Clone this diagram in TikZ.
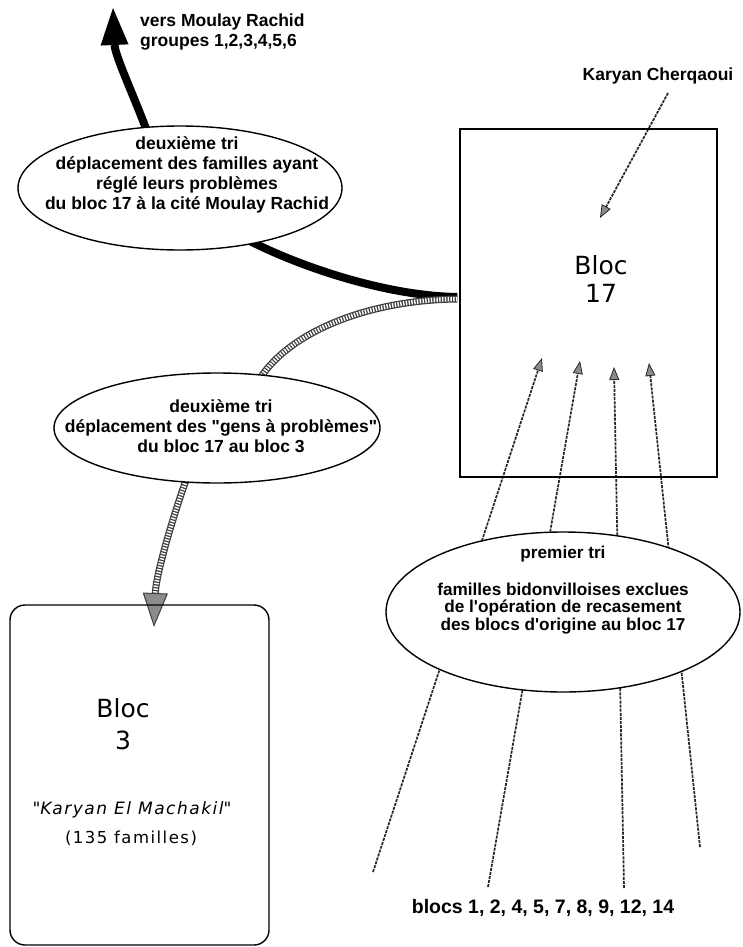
\documentclass[tikz,border=0pt]{standalone}
\usepackage{fontspec}
\setmainfont{Liberation Sans}
\newfontfamily\genevafont{DejaVu Sans}
\newfontfamily\genevasp{DejaVu Sans}[LetterSpace=9]
\usetikzlibrary{shapes.geometric,arrows.meta,calc}
\pgfdeclarelayer{background}
\pgfsetlayers{background,main}
\tikzset{
  lbl/.style={font=\fontsize{17.5}{20}\selectfont\bfseries, align=center, inner sep=0pt},
  oval/.style={ellipse, draw, line width=1.4pt, fill=white, inner sep=0pt},
  blocfont/.style={font=\genevafont\fontsize{25}{30}\selectfont, align=center, inner sep=0pt},
  smallfont/.style={font=\genevasp\fontsize{16.5}{20}\selectfont, inner sep=0pt},
  blackarrow/.style={line width=8pt, -{Triangle[length=37pt,width=28pt,line width=0pt]}},
  grayarrow/.style={line width=7pt, draw=black!75,
    -{Triangle[length=34pt,width=25pt,line width=1pt,fill=black!45]},
    postaction={draw, -, white, line width=4.5pt, dash pattern=on 1.4pt off 1.4pt, shorten >=34pt}},
  dasharrow/.style={line width=1.7pt, draw=black!85, dash pattern=on 3pt off 1.1pt,
    -{Triangle[length=13pt,width=10pt,line width=0.8pt,fill=black!45]}}
}
\begin{document}
\begin{tikzpicture}[x=1pt,y=-1pt]
\useasboundingbox (0,0) rectangle (742,947);

% boxes
\node[draw, line width=1.2pt, minimum width=257pt, minimum height=348pt, inner sep=0pt] (b17) at (588.5,303) {};
\node[blocfont, font=\genevafont\fontsize{25}{28}\selectfont] (b17t) at (601,279) {Bloc\\17};
\node[draw, line width=1.4pt, rounded corners=15pt, minimum width=259pt, minimum height=340pt, inner sep=0pt] (b3) at (139.5,775) {};
\node[blocfont, font=\genevafont\fontsize{25}{32}\selectfont] (b3t) at (123,724) {Bloc\\3};
\node[smallfont, font=\genevasp\itshape\fontsize{17}{20}\selectfont] (b3k) at (132,810) {\textquotedbl Karyan El Machakil\textquotedbl};
\node[smallfont] (b3f) at (131,838) {(135 familles)};

% ellipses
\node[oval, minimum width=324pt, minimum height=124pt] (e1) at (180,188) {};
\node[oval, minimum width=326pt, minimum height=110pt] (e2) at (217,428) {};
\node[oval, minimum width=354pt, minimum height=160pt] (e3) at (563,612) {};

\node[lbl] (e1t) at (187,175) {deuxième tri\\déplacement des familles ayant\\réglé leurs problèmes\\du bloc 17 à la cité Moulay Rachid};
\node[lbl] (e2t) at (221,426) {deuxième tri\\déplacement des \textquotedbl gens à problèmes\textquotedbl\\du bloc 17 au bloc 3};
\node[lbl, font=\fontsize{17.2}{17.5}\selectfont\bfseries] (e3t) at (563,590) {premier tri\\[19pt]familles bidonvilloises exclues\\de l\textquotesingle opération de recasement\\des blocs d\textquotesingle origine au bloc 17};

% free labels
\node[lbl, align=left, anchor=west] (vers) at (140,32.5) {vers Moulay Rachid\\groupes 1,2,3,4,5,6};
\node[lbl] (kc) at (658,76) {Karyan Cherqaoui};
\node[lbl, font=\fontsize{19.5}{22}\selectfont\bfseries] (blocs) at (543,908) {blocs 1, 2, 4, 5, 7, 8, 9, 12, 14};

% coordinates
\coordinate (tipA) at (113,8);
\coordinate (tipB) at (154,627);
\coordinate (kcs) at (668,93);
\coordinate (kct) at (600,218);
\coordinate (f1) at (373,872); \coordinate (t1) at (542,358);
\coordinate (f2) at (488,887); \coordinate (t2) at (580,361);
\coordinate (f3) at (624,888); \coordinate (t3) at (614,367);
\coordinate (f4) at (700,847); \coordinate (t4) at (649,363);

\begin{pgfonlayer}{background}
\draw[blackarrow] ($(b17.west)+(-2,-6)$) .. controls (390,296) and (310,270) .. (258,245)
   .. controls (200,218) and (158,165) .. (145,126)
   .. controls (132,92) and (115,55) .. (tipA);
\draw[grayarrow] ($(b17.west)+(-2,-4)$) .. controls (370,300) and (295,330) .. (263,374)
   .. controls (235,410) and (200,445) .. (185,483)
   .. controls (172,520) and (156,575) .. (tipB);
\draw[dasharrow] (kcs) -- (kct);
\draw[dasharrow] (f1) -- (t1);
\draw[dasharrow] (f2) -- (t2);
\draw[dasharrow] (f3) -- (t3);
\draw[dasharrow] (f4) -- (t4);
\end{pgfonlayer}
\end{tikzpicture}
\end{document}
